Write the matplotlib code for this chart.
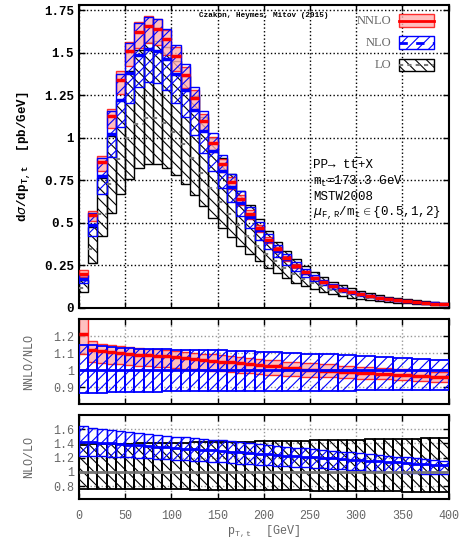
import numpy as np
import matplotlib
matplotlib.use('Agg')
import matplotlib.pyplot as plt
from matplotlib.patches import Rectangle
from matplotlib.lines import Line2D

plt.rcParams['font.family'] = ['Liberation Mono', 'DejaVu Sans Mono']
plt.rcParams['mathtext.fontset'] = 'custom'
plt.rcParams['mathtext.rm'] = 'Liberation Mono'
plt.rcParams['mathtext.bf'] = 'Liberation Mono:bold'
plt.rcParams['hatch.linewidth'] = 0.8

# p_T bins (GeV)
edges = np.arange(0, 410, 10)

# NNLO central, pb/GeV
nnlo = [0.200, 0.545, 0.858, 1.125, 1.34, 1.51, 1.62, 1.655, 1.64, 1.58,
        1.48, 1.37, 1.235, 1.10, 0.97, 0.845, 0.74, 0.64, 0.553, 0.47,
        0.40, 0.342, 0.29, 0.245, 0.207, 0.175, 0.148, 0.125, 0.106, 0.090,
        0.077, 0.066, 0.057, 0.049, 0.042, 0.036, 0.031, 0.027, 0.0235, 0.0205]

# NNLO/NLO (central NLO = 1)
k_nnlo = [1.21, 1.12, 1.11, 1.105, 1.10, 1.095, 1.09, 1.088, 1.085, 1.08,
          1.075, 1.07, 1.065, 1.06, 1.055, 1.05, 1.045, 1.04, 1.035, 1.03,
          1.025, 1.02, 1.015, 1.01, 1.005, 1.0, 0.998, 0.995, 0.99, 0.988,
          0.985, 0.982, 0.978, 0.975, 0.972, 0.968, 0.965, 0.962, 0.958, 0.955]
nnlo_up = [1.34, 1.17, 1.155, 1.148, 1.14, 1.135, 1.13, 1.126, 1.122, 1.117,
           1.112, 1.107, 1.102, 1.097, 1.092, 1.087, 1.082, 1.077, 1.072, 1.067,
           1.062, 1.057, 1.052, 1.047, 1.042, 1.037, 1.034, 1.031, 1.027, 1.024,
           1.021, 1.018, 1.014, 1.011, 1.007, 1.003, 0.999, 0.995, 0.991, 0.987]
nnlo_dn = [1.095, 1.045, 1.04, 1.037, 1.033, 1.03, 1.026, 1.023, 1.02, 1.016,
           1.012, 1.008, 1.004, 1.0, 0.996, 0.992, 0.988, 0.984, 0.98, 0.977,
           0.974, 0.971, 0.968, 0.965, 0.962, 0.96, 0.958, 0.956, 0.954, 0.952,
           0.95, 0.948, 0.946, 0.944, 0.942, 0.94, 0.937, 0.934, 0.931, 0.928]
nlo_up = [1.150, 1.145, 1.140, 1.135, 1.130, 1.127, 1.125, 1.123, 1.122, 1.121,
          1.120, 1.119, 1.118, 1.117, 1.116, 1.115, 1.113, 1.111, 1.109, 1.107,
          1.105, 1.103, 1.101, 1.099, 1.097, 1.095, 1.093, 1.091, 1.089, 1.087,
          1.084, 1.081, 1.078, 1.075, 1.072, 1.069, 1.066, 1.063, 1.059, 1.055]
nlo_dn = [0.862, 0.864, 0.866, 0.868, 0.870, 0.871, 0.872, 0.873, 0.873, 0.874,
          0.874, 0.875, 0.875, 0.875, 0.876, 0.876, 0.876, 0.877, 0.877, 0.877,
          0.878, 0.878, 0.878, 0.878, 0.879, 0.879, 0.879, 0.879, 0.879, 0.880,
          0.880, 0.880, 0.880, 0.880, 0.881, 0.881, 0.881, 0.881, 0.882, 0.882]

# NLO/LO (central LO = 1)
k_nlo = [1.426, 1.418, 1.41, 1.402, 1.394, 1.385, 1.375, 1.365, 1.355, 1.345,
         1.336, 1.328, 1.32, 1.312, 1.304, 1.295, 1.285, 1.275, 1.265, 1.255,
         1.246, 1.238, 1.23, 1.222, 1.214, 1.206, 1.198, 1.19, 1.182, 1.174,
         1.166, 1.158, 1.15, 1.142, 1.134, 1.126, 1.118, 1.11, 1.102, 1.094]
lo_up = [1.385, 1.388, 1.39, 1.392, 1.395, 1.398, 1.40, 1.402, 1.405, 1.408,
         1.41, 1.412, 1.414, 1.416, 1.418, 1.42, 1.422, 1.424, 1.426, 1.428,
         1.43, 1.432, 1.435, 1.437, 1.44, 1.442, 1.445, 1.447, 1.45, 1.452,
         1.455, 1.457, 1.46, 1.462, 1.465, 1.468, 1.47, 1.473, 1.476, 1.48]
lo_dn = [0.765, 0.764, 0.763, 0.762, 0.761, 0.76, 0.759, 0.758, 0.757, 0.756,
         0.755, 0.754, 0.753, 0.752, 0.751, 0.75, 0.749, 0.748, 0.747, 0.746,
         0.745, 0.744, 0.742, 0.741, 0.74, 0.739, 0.737, 0.736, 0.735, 0.733,
         0.732, 0.731, 0.729, 0.728, 0.727, 0.725, 0.724, 0.723, 0.721, 0.72]

nnlo = np.array(nnlo)
k_nnlo, nnlo_up, nnlo_dn = np.array(k_nnlo), np.array(nnlo_up), np.array(nnlo_dn)
nlo_up, nlo_dn = np.array(nlo_up), np.array(nlo_dn)
k_nlo, lo_up, lo_dn = np.array(k_nlo), np.array(lo_up), np.array(lo_dn)

nlo = nnlo / k_nnlo
lo = nlo / k_nlo

RED = '#ff0000'
PINK = '#ffb0b0'
BLUE = '#0000ff'
GRAY = '#666666'


def boxes(ax, e, lo_, hi_, **kw):
    ax.bar(e[:-1], hi_ - lo_, width=np.diff(e), bottom=lo_, align='edge', **kw)


def centrals(ax, e, y, **kw):
    ax.hlines(y, e[:-1], e[1:], **kw)


def merge(vals, w):
    # 10 GeV bins up to 200, then 20 GeV bins
    out = list(vals[:20])
    for i in range(20, 40, 2):
        out.append((vals[i] * w[i] + vals[i + 1] * w[i + 1]) / (w[i] + w[i + 1]))
    return np.array(out)


fig = plt.figure(figsize=(4.75, 5.42), dpi=100)
left, width = 0.1663, 0.778
ax1 = fig.add_axes([left, 0.4326, width, 0.5582])
ax2 = fig.add_axes([left, 0.2546, width, 0.1568])
ax3 = fig.add_axes([left, 0.0793, width, 0.1550])

for ax in (ax1, ax2, ax3):
    ax.set_xlim(0, 400)
    ax.set_xticks(np.arange(0, 401, 50))
    ax.tick_params(direction='in', top=True, right=True, length=4, width=1)
    for s in ax.spines.values():
        s.set_linewidth(1.5)
    ax.set_axisbelow(True)

# ---- top panel ----
ax1.grid(True, ls=':', color='k', lw=1)
boxes(ax1, edges, lo * lo_dn, lo * lo_up, facecolor='none', edgecolor='k',
      hatch='\\\\\\', lw=1.0, zorder=2)
boxes(ax1, edges, nlo * nnlo_dn, nlo * nnlo_up, facecolor=PINK, edgecolor=RED,
      lw=1.0, alpha=0.8, zorder=3)
boxes(ax1, edges, nlo * nlo_dn, nlo * nlo_up, facecolor='none', edgecolor=BLUE,
      hatch='///', lw=1.0, zorder=4)
centrals(ax1, edges, lo, colors='#777777', lw=1.5, linestyles=(0, (2, 2)), zorder=5)
centrals(ax1, edges, nlo, colors=BLUE, lw=2.5, zorder=6)
centrals(ax1, edges, nnlo, colors=RED, lw=2.5, zorder=7)

ax1.set_ylim(0, 1.78)
yt = [0, 0.25, 0.5, 0.75, 1, 1.25, 1.5, 1.75]
ax1.set_yticks(yt)
ax1.set_yticklabels(['0', '0.25', '0.5', '0.75', '1', '1.25', '1.5', '1.75'],
                    fontweight='bold', fontsize=9)
ax1.set_xticklabels([])
ax1.set_ylabel(r'd$\sigma$/dp$_{\mathbf{T,t}}$  [pb/GeV]', fontweight='bold',
               fontsize=9, labelpad=8)

ax1.text(0.325, 0.977, 'Czakon, Heymes, Mitov (2015)', transform=ax1.transAxes,
         fontsize=5.5, fontweight='bold', va='top', ha='left')

info = ['PP\u2192 t\u0074\u0305+X', r'm$_{\mathrm{t}}$=173.3 GeV',
        'MSTW2008', r'$\mu_{\mathrm{F,R}}$/m$_{\mathrm{t}}$$\in${0.5,1,2}']
for i, s in enumerate(info):
    ax1.text(0.633, 0.47 - i * 0.053, s, transform=ax1.transAxes, fontsize=9,
             va='center', ha='left')

# legend
leg = [('NNLO', 0.928), ('NLO', 0.855), ('LO', 0.782)]
bx, bw, bh = 0.867, 0.095, 0.041
for name, y0 in leg:
    ax1.text(0.845, y0 + bh / 2, name, transform=ax1.transAxes, ha='right',
             va='center', fontsize=9, color=GRAY, family='Liberation Serif')
ax1.add_patch(Rectangle((bx, leg[0][1]), bw, bh, transform=ax1.transAxes,
                        facecolor=PINK, edgecolor=RED, lw=1.0, alpha=0.8, zorder=8))
ax1.add_line(Line2D([bx, bx + bw], [leg[0][1] + bh / 2] * 2, transform=ax1.transAxes,
                    color=RED, lw=2, zorder=9))
ax1.add_patch(Rectangle((bx, leg[1][1]), bw, bh, transform=ax1.transAxes,
                        facecolor='white', edgecolor=BLUE, hatch='///', lw=1.0, zorder=8))
ax1.add_line(Line2D([bx, bx + bw], [leg[1][1] + bh / 2] * 2, transform=ax1.transAxes,
                    color=BLUE, lw=2, ls=(0, (3, 3)), zorder=9))
ax1.add_patch(Rectangle((bx, leg[2][1]), bw, bh, transform=ax1.transAxes,
                        facecolor='white', edgecolor='k', hatch='\\\\\\', lw=1.0, zorder=8))
ax1.add_line(Line2D([bx, bx + bw], [leg[2][1] + bh / 2] * 2, transform=ax1.transAxes,
                    color='#777777', lw=1.5, ls=(0, (2, 2)), zorder=9))

# ---- NNLO/NLO panel ----
edges_m = np.concatenate([np.arange(0, 200, 10), np.arange(200, 401, 20)])
ax2.grid(True, ls=':', color='#999999', lw=1)
boxes(ax2, edges_m, merge(nnlo_dn, nlo), merge(nnlo_up, nlo), facecolor=PINK,
      edgecolor=RED, lw=1.0, alpha=0.8, zorder=2)
boxes(ax2, edges_m, merge(nlo_dn, nlo), merge(nlo_up, nlo), facecolor='none',
      edgecolor=BLUE, hatch='///', lw=1.3, zorder=3)
centrals(ax2, edges_m, merge(k_nnlo, nlo), colors=RED, lw=2.5, zorder=4)
centrals(ax2, edges_m, np.ones(len(edges_m) - 1), colors=BLUE, lw=2, zorder=5)
ax2.set_ylim(0.8, 1.3)
ax2.set_yticks([0.9, 1, 1.1, 1.2])
ax2.set_yticklabels(['0.9', '1', '1.1', '1.2'], fontsize=8.5, color=GRAY)
ax2.set_xticklabels([])
ax2.set_ylabel('NNLO/NLO', fontsize=8.5, color=GRAY, labelpad=13)

# ---- NLO/LO panel ----
ax3.grid(True, ls=':', color='#999999', lw=1)
boxes(ax3, edges, lo_dn, lo_up, facecolor='none', edgecolor='k', hatch='\\\\\\',
      lw=1.3, zorder=2)
boxes(ax3, edges, k_nlo * nlo_dn, k_nlo * nlo_up, facecolor='none', edgecolor=BLUE,
      hatch='///', lw=1.0, zorder=3)
centrals(ax3, edges, np.ones(40), colors='#777777', lw=2, zorder=4)
centrals(ax3, edges, k_nlo, colors=BLUE, lw=2, zorder=5)
ax3.set_ylim(0.62, 1.8)
ax3.set_yticks([0.8, 1, 1.2, 1.4, 1.6])
ax3.set_yticklabels(['0.8', '1', '1.2', '1.4', '1.6'], fontsize=8.5, color=GRAY)
ax3.set_xticklabels([str(v) for v in range(0, 401, 50)], fontsize=8.5, color=GRAY)
ax3.tick_params(axis='x', pad=8)
ax3.set_ylabel('NLO/LO', fontsize=8.5, color=GRAY, labelpad=13)
ax3.set_xlabel(r'p$_{\mathrm{T,t}}$  [GeV]', fontsize=8.5, color=GRAY, labelpad=1)

fig.savefig('out.png', dpi=100)
